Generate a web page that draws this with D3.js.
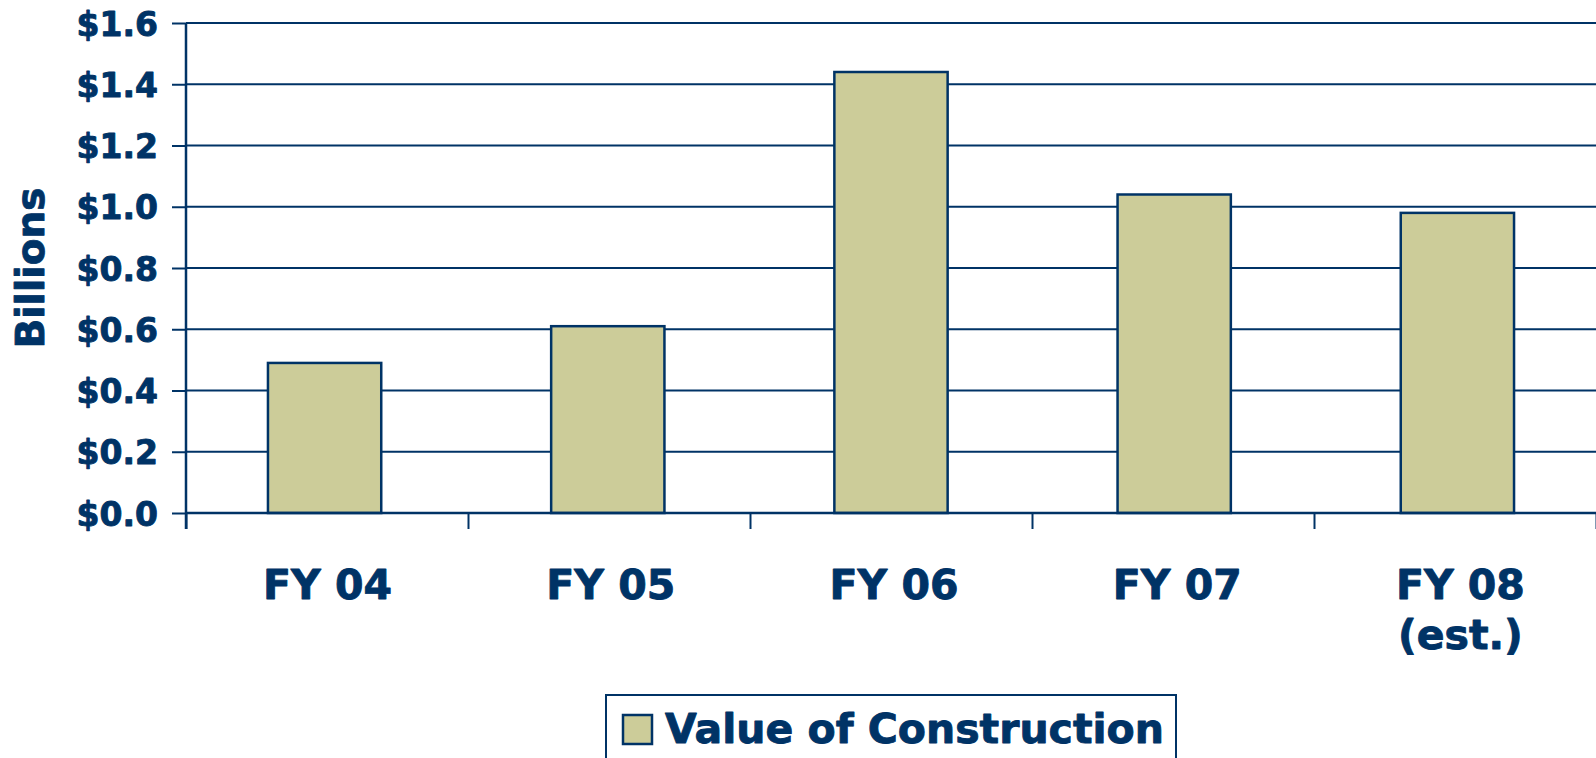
<!DOCTYPE html>
<html>
<head>
    <style>
        body { margin: 0; background: #fff; }
        text { font-family: "DejaVu Sans", Verdana, sans-serif; font-weight: bold; fill: #003366;
               stroke: #003366; stroke-width: 0.9px; stroke-linejoin: round; }
    </style>
</head>
<body>
    <script src="https://d3js.org/d3.v7.min.js"></script>
    <script>
        const width = 1596;
        const height = 758;
        const navy = "#003366";
        const barFill = "#CCCC99";

        // data (billions of dollars)
        const categories = ["FY 04", "FY 05", "FY 06", "FY 07", "FY 08"];
        const labelLines = [["FY 04"], ["FY 05"], ["FY 06"], ["FY 07"], ["FY 08", "(est.)"]];
        const values = [0.49, 0.61, 1.44, 1.04, 0.98];
        const yTicks = [0, 0.2, 0.4, 0.6, 0.8, 1.0, 1.2, 1.4, 1.6];
        const seriesName = "Value of Construction";

        const plotL = 186, plotR = 1596, plotT = 23, plotB = 513;

        const svg = d3.select("body").append("svg")
            .attr("width", width).attr("height", height);

        const x = d3.scaleBand().domain(categories).range([plotL - 3, plotR + 3])
            .paddingInner(0.6).paddingOuter(0.3);
        const xEdge = d3.scaleLinear().domain([0, categories.length]).range([plotL, plotR]);
        const y = d3.scaleLinear().domain([0, 1.6]).range([plotB, plotT]);

        // gridlines
        svg.append("g").selectAll("line").data(yTicks).enter().append("line")
            .attr("x1", plotL).attr("x2", plotR)
            .attr("y1", d => y(d)).attr("y2", d => y(d))
            .attr("stroke", navy).attr("stroke-width", 2);

        // bars
        svg.append("g").selectAll("rect").data(values).enter().append("rect")
            .attr("x", (d, i) => x(categories[i]))
            .attr("y", d => y(d))
            .attr("width", x.bandwidth())
            .attr("height", d => plotB - y(d))
            .attr("fill", barFill)
            .attr("stroke", navy).attr("stroke-width", 2.5);

        // y axis
        const yAxis = svg.append("g").attr("transform", `translate(${plotL},0)`)
            .call(d3.axisLeft(y).tickValues(yTicks).tickFormat(d => "$" + d.toFixed(1))
                .tickSize(14).tickPadding(14));
        yAxis.select(".domain").remove();
        yAxis.selectAll(".tick line").attr("stroke", navy).attr("stroke-width", 2);
        yAxis.selectAll("text").style("font-size", "33px").attr("dy", "0.37em")
            .attr("fill", navy).attr("font-family", null);

        svg.append("line")
            .attr("x1", plotL).attr("x2", plotL).attr("y1", plotT).attr("y2", plotB + 16)
            .attr("stroke", navy).attr("stroke-width", 2.5);

        // x axis (ticks at category edges)
        const xAxis = svg.append("g").attr("transform", `translate(0,${plotB})`)
            .call(d3.axisBottom(xEdge).tickValues(d3.range(categories.length + 1))
                .tickFormat("").tickSize(16));
        xAxis.select(".domain").remove();
        xAxis.selectAll(".tick line").attr("stroke", navy).attr("stroke-width", 2);
        svg.append("line")
            .attr("x1", plotL).attr("x2", plotR).attr("y1", plotB).attr("y2", plotB)
            .attr("stroke", navy).attr("stroke-width", 2.5);

        // category labels
        const lab = svg.append("g").selectAll("text").data(labelLines).enter().append("text")
            .attr("x", (d, i) => x(categories[i]) + x.bandwidth() / 2 + 3)
            .attr("y", 599)
            .attr("text-anchor", "middle")
            .style("font-size", "41px");
        lab.selectAll("tspan").data(d => d).enter().append("tspan")
            .attr("x", function () { return this.parentNode.getAttribute("x"); })
            .attr("dy", (d, i) => i === 0 ? 0 : 50)
            .text(d => d);

        // y title
        svg.append("text")
            .attr("transform", "translate(44,268) rotate(-90)")
            .attr("text-anchor", "middle")
            .style("font-size", "39px")
            .text("Billions");

        // legend
        const lg = svg.append("g");
        lg.append("rect").attr("x", 606).attr("y", 695).attr("width", 570).attr("height", 80)
            .attr("fill", "#fff").attr("stroke", navy).attr("stroke-width", 2);
        lg.append("rect").attr("x", 623).attr("y", 715).attr("width", 29).attr("height", 29)
            .attr("fill", barFill).attr("stroke", navy).attr("stroke-width", 2.5);
        lg.append("text").attr("x", 665).attr("y", 743)
            .style("font-size", "41px").text(seriesName);
    </script>
</body>
</html>
